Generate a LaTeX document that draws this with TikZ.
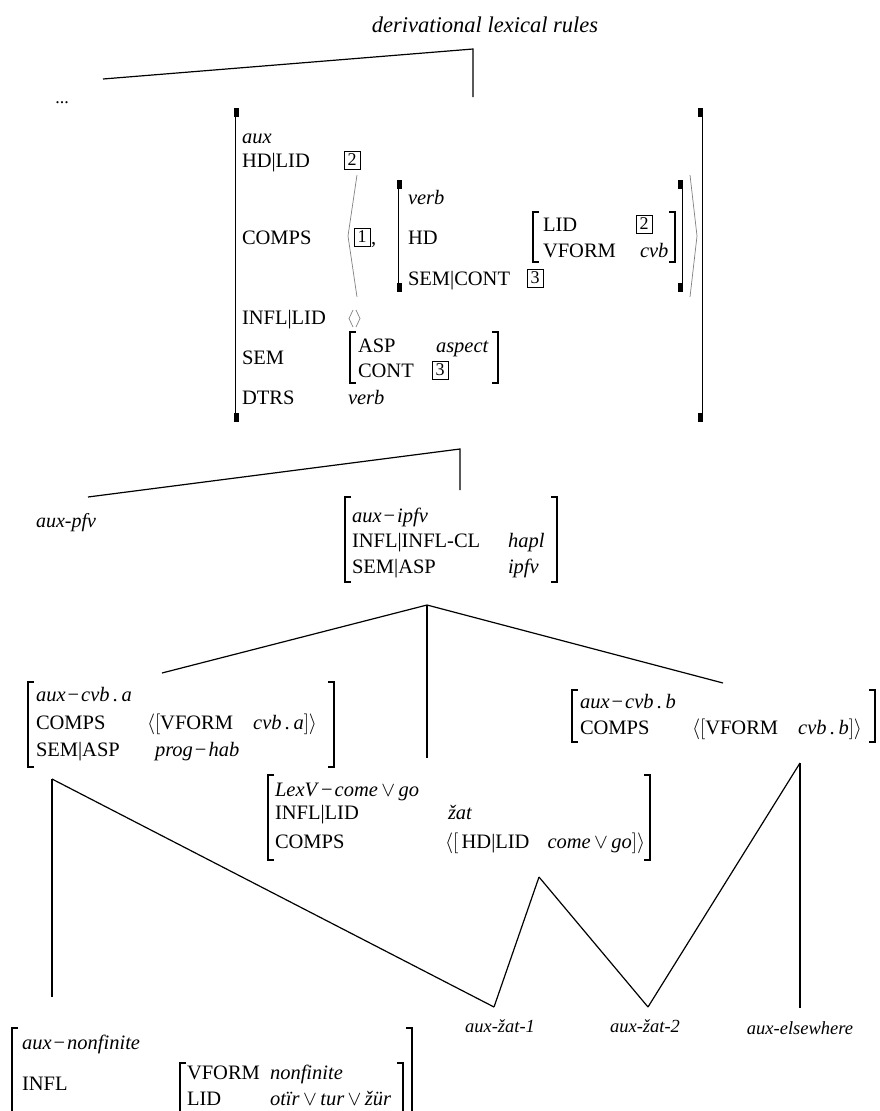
\documentclass[tikz,border=0pt]{standalone}
\usepackage{fontspec}
\setmainfont{Liberation Serif}
\newcommand\fsz{\fontsize{20.5}{24}\selectfont}
\newcommand\fsl{\fontsize{18.5}{22}\selectfont}
% plain brackets with ticks
\newcommand\avmL[3]{\draw[brk] ({#1+6},#2) -- (#1,#2) -- (#1,#3) -- ({#1+6},#3);}
\newcommand\avmR[3]{\draw[brk] ({#1-6},#2) -- (#1,#2) -- (#1,#3) -- ({#1-6},#3);}
% tall brackets with heavy ends
\newcommand\avmLT[3]{\draw[brkthin] (#1,#2) -- (#1,#3);
  \fill ({#1-1},#2) rectangle ({#1+4},{#2+9});
  \fill ({#1-1},{#3-9}) rectangle ({#1+4},#3);}
\newcommand\avmRT[3]{\draw[brkthin] (#1,#2) -- (#1,#3);
  \fill ({#1+1},#2) rectangle ({#1-4},{#2+9});
  \fill ({#1+1},{#3-9}) rectangle ({#1-4},#3);}
\newcommand\mn{\kern2pt\char"2212\kern2pt}
\begin{document}
\begin{tikzpicture}[x=1pt,y=-1pt,
  txt/.style={anchor=base west, inner sep=0pt, outer sep=0pt, font=\fsz},
  lbl/.style={anchor=base, inner sep=0pt, outer sep=0pt, font=\fsl\itshape},
  tree/.style={line width=1.2pt},
  brk/.style={line width=1.1pt},
  brkthin/.style={line width=1pt},
  tagbox/.style={draw, line width=0.7pt, inner sep=0pt, minimum width=16pt, minimum height=18pt, font=\fontsize{18}{18}\selectfont},
  gang/.style={line width=0.7pt, gray}]
\useasboundingbox (0,0) rectangle (880,1111);

% ---------- top ----------
\node[anchor=center, inner sep=0pt, font=\fontsize{22.5}{26}\selectfont\itshape] (drl) at (485,25) {derivational lexical rules};
\node[anchor=base, inner sep=0pt, font=\fontsize{18}{20}\selectfont] (dots) at (62,103) {...};
\coordinate (r0l) at (103,79);
\coordinate (r0) at (473,49);
\coordinate (auxtop) at (473,97);
\draw[tree] (r0l) -- (r0) -- (auxtop);

% ---------- big AVM (aux) ----------
\avmLT{235}{108}{422}
\avmRT{702}{108}{422}
\node[txt] (aux) at (242,143) {\textit{aux}};
\node[txt] (hdlid) at (242,167) {HD|LID};
\node[tagbox] (t2a) at (352,160) {2};
\node[txt] (comps) at (242,244) {COMPS};
\draw[gang] (357,175) -- (348,236) -- (357,297);
\node[tagbox] (t1) at (362,237) {1};
\node[txt] (comma) at (371,244) {,};
\avmLT{398}{180}{292}
\avmRT{682}{180}{292}
\node[txt] (verb1) at (408,204) {\textit{verb}};
\node[txt] (hd) at (408,244) {HD};
\node[txt] (semcont) at (408,285) {SEM|CONT};
\node[tagbox] (t3a) at (535,278) {3};
\avmL{533}{212}{262}
\avmR{675}{212}{262}
\node[txt] (lid) at (543,231) {LID};
\node[tagbox] (t2b) at (644,224) {2};
\node[txt] (vform) at (543,257) {VFORM};
\node[txt] (cvb) at (640,257) {\textit{cvb}};
\draw[gang] (690,175) -- (697,236) -- (690,297);
\node[txt] (infllid) at (242,324) {INFL|LID};
\draw[gang] (353,310) -- (349,318.5) -- (353,327);
\draw[gang] (356,310) -- (360,318.5) -- (356,327);
\node[txt] (sem) at (242,364) {SEM};
\avmL{350}{332}{383}
\avmR{498}{332}{383}
\node[txt] (asp) at (358,352) {ASP};
\node[txt] (aspect) at (436,352) {\textit{aspect}};
\node[txt] (cont) at (358,377) {CONT};
\node[tagbox] (t3b) at (440,370) {3};
\node[txt] (dtrs) at (242,404) {DTRS};
\node[txt] (verb2) at (348,404) {\textit{verb}};

% ---------- level 2 ----------
\coordinate (l2l) at (88,497);
\coordinate (l2) at (460,449);
\coordinate (ipfvtop) at (460,490);
\draw[tree] (l2l) -- (l2) -- (ipfvtop);
\node[anchor=base, inner sep=0pt, font=\fontsize{20}{24}\selectfont\itshape] (pfv) at (66,527) {aux-pfv};
\avmL{345}{497}{582}
\avmR{557}{497}{582}
\node[txt] (ipfv1) at (352,522) {\textit{aux}\mn\textit{ipfv}};
\node[txt] (inflcl) at (352,547) {INFL|INFL-CL};
\node[txt] (hapl) at (508,547) {\textit{hapl}};
\node[txt] (semasp) at (352,573) {SEM|ASP};
\node[txt] (ipfv2) at (508,573) {\textit{ipfv}};

% ---------- level 3 ----------
\coordinate (l3) at (427,605);
\coordinate (cvbatop) at (162,673);
\coordinate (lexvtop) at (427,758);
\coordinate (cvbbtop) at (723,683);
\draw[tree] (l3) -- (cvbatop);
\draw[tree] (l3) -- (lexvtop);
\draw[tree] (l3) -- (cvbbtop);

% aux-cvb.a
\avmL{28}{682}{767}
\avmR{334}{682}{767}
\node[txt] (cvba1) at (36,701) {\textit{aux}\mn\textit{cvb\,.\,a}};
\node[txt] (cvba2) at (36,729) {COMPS};
\node[txt] (cvba3) at (147,729) {$\big\langle\big[$VFORM\hspace{20pt}\textit{cvb\,.\,a}$\big]\big\rangle$};
\node[txt] (cvba4) at (36,756) {SEM|ASP};
\node[txt] (cvba5) at (155,756) {\textit{prog}\mn\textit{hab}};

% aux-cvb.b
\avmL{572}{690}{742}
\avmR{875}{690}{742}
\node[txt] (cvbb1) at (580,708) {\textit{aux}\mn\textit{cvb\,.\,b}};
\node[txt] (cvbb2) at (580,734) {COMPS};
\node[txt] (cvbb3) at (692,734) {$\big\langle\big[$VFORM\hspace{20pt}\textit{cvb\,.\,b}$\big]\big\rangle$};

% LexV
\avmL{268}{775}{860}
\avmR{650}{775}{860}
\node[txt] (lexv1) at (275,796) {\textit{LexV}\mn\textit{come}\,$\vee$\,\textit{go}};
\node[txt] (lexv2) at (275,819) {INFL|LID};
\node[txt] (lexv3) at (448,819) {\textit{žat}};
\node[txt] (lexv4) at (275,848) {COMPS};
\node[txt] (lexv5) at (445,848) {$\big\langle\big[$\,HD|LID\hspace{18pt}\textit{come}\,$\vee$\,\textit{go}$\big]\big\rangle$};

% ---------- bottom connectors ----------
\coordinate (cvbabot) at (52,779);
\coordinate (nonfintop) at (52,997);
\coordinate (zat1) at (494,1007);
\coordinate (lexvbot) at (539,877);
\coordinate (zat2) at (648,1007);
\coordinate (cvbbbot) at (800,763);
\coordinate (elsew) at (800,1008);
\draw[tree] (cvbabot) -- (nonfintop);
\draw[tree] (cvbabot) -- (zat1);
\draw[tree] (lexvbot) -- (zat1);
\draw[tree] (lexvbot) -- (zat2);
\draw[tree] (cvbbbot) -- (zat2);
\draw[tree] (cvbbbot) -- (elsew);

\node[lbl] (lz1) at (500,1032) {aux-žat-1};
\node[lbl] (lz2) at (645,1032) {aux-žat-2};
\node[lbl] (lel) at (800,1034) {aux-elsewhere};

% aux-nonfinite
\avmL{12}{1028}{1112}
\avmR{412}{1028}{1112}
\node[txt] (nf1) at (22,1049) {\textit{aux}\mn\textit{nonfinite}};
\node[txt] (nf2) at (22,1090) {INFL};
\avmL{180}{1063}{1112}
\avmR{403}{1063}{1112}
\node[txt] (nf3) at (187,1079) {VFORM};
\node[txt] (nf4) at (270,1079) {\textit{nonfinite}};
\node[txt] (nf5) at (187,1105) {LID};
\node[txt] (nf6) at (270,1105) {\textit{otïr}\,$\vee$\,\textit{tur}\,$\vee$\,\textit{žür}};
\end{tikzpicture}
\end{document}
